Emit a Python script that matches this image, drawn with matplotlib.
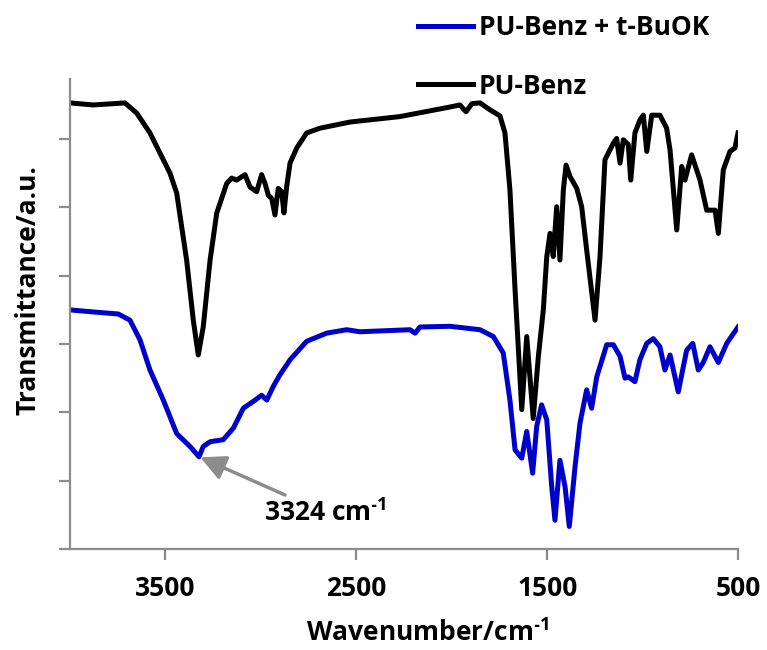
import matplotlib
matplotlib.use("Agg")
import matplotlib.pyplot as plt
from matplotlib.lines import Line2D
from matplotlib.ticker import FixedLocator, MultipleLocator, NullFormatter

plt.rcParams['font.family'] = ['Open Sans', 'DejaVu Sans']
plt.rcParams['font.weight'] = 'bold'
plt.rcParams['mathtext.default'] = 'regular'

# PU-Benz (black)
benz_wn = [4000, 3878, 3712, 3650, 3581, 3476, 3441, 3389, 3354, 3328, 3302, 3266, 3231,
           3179, 3153, 3127, 3083, 3057, 3022, 2996, 2978, 2961, 2943, 2926, 2909, 2891,
           2879, 2865, 2847, 2812, 2760, 2690, 2533, 2271, 2009, 1957, 1925, 1894, 1852,
           1800, 1747, 1721, 1695, 1668, 1633, 1607, 1573, 1546, 1520, 1502, 1485, 1468,
           1450, 1433, 1415, 1401, 1380, 1345, 1319, 1293, 1249, 1223, 1197, 1153, 1136,
           1118, 1101, 1075, 1062, 1040, 1014, 996, 978, 952, 909, 874, 856, 821, 795,
           778, 743, 699, 664, 620, 603, 577, 542, 516, 500]
benz_t = [65.3, 65.0, 65.3, 63.8, 60.9, 55.0, 52.1, 42.3, 33.5, 28.4, 32.5, 42.3, 49.2,
          53.5, 54.3, 54.0, 54.8, 53.0, 52.3, 54.8, 53.5, 51.8, 51.3, 48.9, 52.8, 52.3,
          49.2, 53.0, 56.5, 58.7, 60.9, 61.6, 62.5, 63.3, 64.7, 65.0, 64.0, 65.2, 65.3,
          64.3, 63.4, 60.9, 52.6, 37.9, 20.4, 31.1, 19.1, 28.2, 35.0, 42.8, 46.2, 42.8,
          50.1, 42.3, 52.6, 56.2, 54.5, 52.8, 50.1, 43.8, 33.5, 42.8, 57.0, 59.4, 60.1,
          56.5, 59.9, 59.2, 54.0, 60.9, 62.8, 63.5, 58.2, 63.5, 63.5, 61.6, 58.4, 46.7, 56.0,
          54.0, 57.7, 54.0, 49.6, 49.6, 46.2, 55.5, 58.2, 58.7, 60.9]

# PU-Benz + t-BuOK (blue)
buok_wn = [4000, 3878, 3747, 3686, 3633, 3581, 3511, 3441, 3371, 3324, 3302, 3266, 3197,
           3144, 3092, 3040, 2996, 2969, 2935, 2900, 2847, 2760, 2655, 2550, 2481, 2219,
           2192, 2166, 2009, 1852, 1782, 1730, 1695, 1668, 1633, 1607, 1576, 1555, 1529,
           1502, 1476, 1459, 1433, 1406, 1384, 1354, 1328, 1293, 1267, 1240, 1188, 1153,
           1118, 1092, 1075, 1040, 1014, 978, 944, 909, 883, 856, 813, 769, 737, 708, 682,
           647, 603, 559, 500]
buok_t = [35.0, 34.7, 34.4, 33.5, 30.6, 26.2, 21.8, 16.9, 15.0, 13.5, 15.0, 15.7, 16.0,
          17.7, 20.6, 21.6, 22.5, 21.8, 23.8, 25.5, 27.7, 30.4, 31.6, 32.1, 31.8, 32.1,
          31.6, 32.5, 32.6, 32.1, 31.1, 28.7, 21.8, 14.5, 13.3, 17.2, 11.1, 17.9, 21.1,
          18.9, 9.1, 4.2, 13.0, 9.1, 3.3, 12.0, 18.4, 23.3, 20.6, 25.2, 29.9, 29.9,
          28.2, 25.0, 25.2, 24.5, 27.7, 30.1, 30.8, 29.6, 26.2, 28.4, 23.0, 29.1, 30.1, 26.2, 27.3,
          29.6, 27.3, 30.1, 32.5]

xticks = [3500, 2500, 1500, 500]
series_labels = ["PU-Benz + t-BuOK", "PU-Benz"]
peak_label = "3324 cm$^{\u2010" + "1}$"
peak_wn, peak_t = 3324, 13.5

fig = plt.figure(figsize=(7.67, 6.5), dpi=100)
ax = fig.add_axes([70/767, 101/650, 668/767, 470/650])

blue = '#0000CC'
ax.plot(buok_wn, buok_t, color=blue, lw=3.6, solid_joinstyle='round')
ax.plot(benz_wn, benz_t, color='black', lw=3.6, solid_joinstyle='round')

ax.set_xlim(4000, 500)
ax.set_ylim(0, 68.8)
ax.xaxis.set_major_locator(FixedLocator(xticks))
ax.yaxis.set_major_locator(MultipleLocator(10))
ax.yaxis.set_major_formatter(NullFormatter())

for s in ['top', 'right']:
    ax.spines[s].set_visible(False)
for s in ['left', 'bottom']:
    ax.spines[s].set_color('#8c8c8c')
    ax.spines[s].set_linewidth(1.6)
ax.tick_params(axis='both', direction='out', length=8, width=1.6, color='#8c8c8c')
ax.tick_params(axis='x', labelsize=19, pad=11)
for lab in ax.get_xticklabels():
    lab.set_fontweight('bold')

fig.text(428/767, 1 - 633/650, "Wavenumber/cm$^{\u2010" + "1}$", ha='center', va='center',
         fontsize=19, fontweight='bold')
fig.text(28/767, 1 - 290/650, "Transmittance/a.u.", ha='center', va='center',
         rotation=90, fontsize=19, fontweight='bold')

ax.annotate(peak_label, xy=(peak_wn, peak_t), xytext=(2985, 5.3),
            ha='left', va='center', fontsize=19, fontweight='bold',
            arrowprops=dict(arrowstyle='-|>,head_length=0.8,head_width=0.4',
                            color='#8c8c8c', lw=2.5, shrinkA=2, shrinkB=1))

handles = [Line2D([], [], color=blue, lw=3.6), Line2D([], [], color='black', lw=3.6)]
leg = fig.legend(handles, series_labels, loc='upper left',
                 bbox_to_anchor=(418/767, 1 - 14/650), bbox_transform=fig.transFigure,
                 frameon=False, fontsize=19, handlelength=2.1, handletextpad=0.2,
                 borderpad=0, borderaxespad=0, labelspacing=1.2)
for t in leg.get_texts():
    t.set_fontweight('bold')

fig.savefig('out.png', dpi=100)
